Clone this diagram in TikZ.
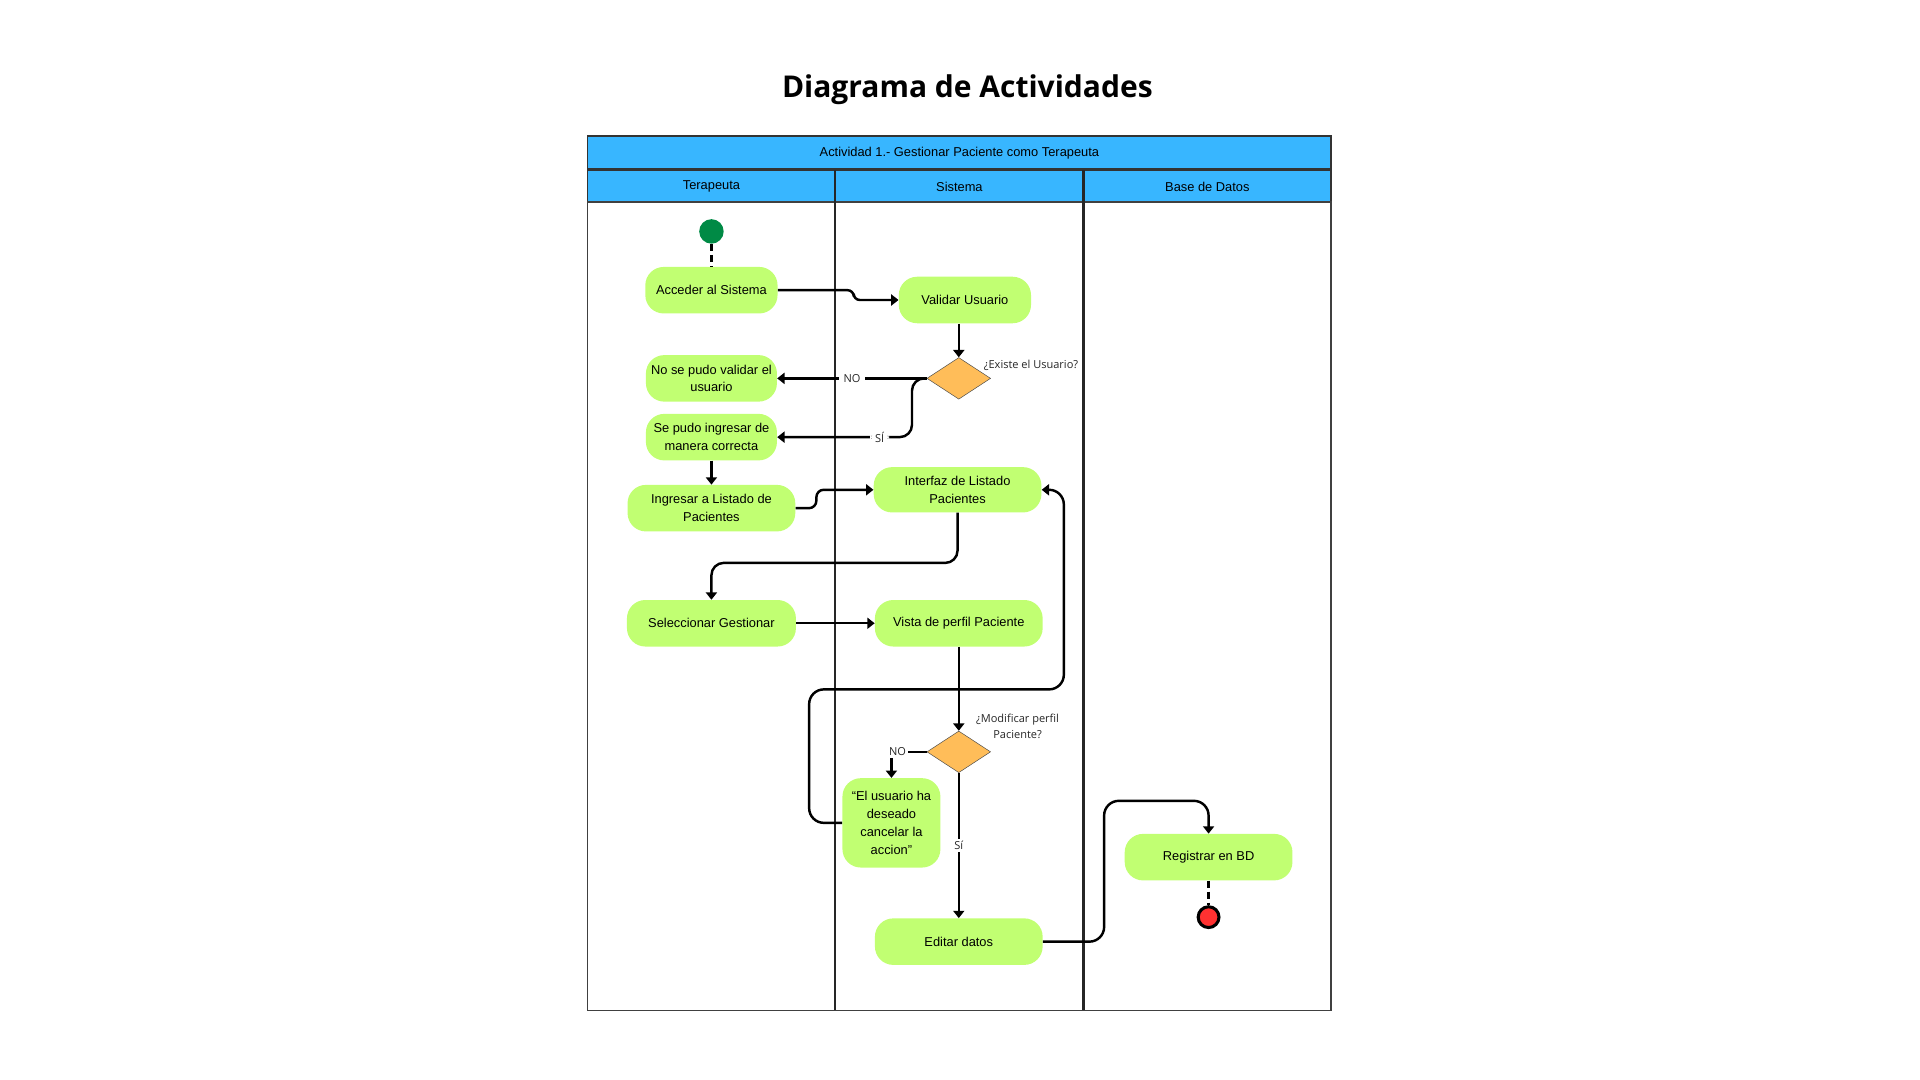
\documentclass[tikz,border=0pt]{standalone}
\usepackage{fontspec}
\setmainfont{Liberation Sans}
\newfontfamily\opensans{Open Sans}
\usetikzlibrary{positioning,shapes.geometric,arrows.meta}
\definecolor{actgreen}{HTML}{C1FF72}
\definecolor{laneblue}{HTML}{38B6FF}
\definecolor{decorange}{HTML}{FFBD59}
\definecolor{startgreen}{HTML}{008A45}
\definecolor{endred}{HTML}{FF3131}
\begin{document}
\begin{tikzpicture}[x=1pt, y=-1pt,
  act/.style = {fill=actgreen, rounded corners=15pt, minimum height=38pt, inner sep=2pt, align=center, font=\fontsize{10.5}{14.5}\selectfont},
  dec/.style = {diamond, draw=black!70, line width=0.4pt, fill=decorange, minimum width=52pt, minimum height=34pt, inner sep=0pt},
  flow/.style = {line width=2pt, -{Triangle[length=6pt,width=9pt]}},
  dash line/.style = {line width=2pt, dash pattern=on 6pt off 3pt},
  lbl/.style = {font=\opensans\fontsize{9}{13}\selectfont, text=black!85, align=center},
  cut/.style = {lbl, fill=white, inner xsep=4pt, inner ysep=2pt},
  head/.style = {fill=laneblue, draw=black!80, line width=1pt}]
\useasboundingbox (0,0) rectangle (1568,882);
\node[font=\opensans\bfseries\fontsize{24.5}{28}\selectfont] (title) at (790,73) {Diagrama de Actividades};
\draw[head] (480,111) rectangle (1087,138);
\node[font=\fontsize{10.5}{12}\selectfont] (actividad) at (783.5,125) {Actividad 1.- Gestionar Paciente como Terapeuta};
\foreach \a/\b/\t in {480/682/Terapeuta, 682/885/Sistema, 885/1087/Base de Datos} {
  \draw[head] (\a,139) rectangle (\b,165);
  \node[font=\fontsize{10.5}{12}\selectfont] (lane\a) at ({(\a+\b)/2},152.5) {\t};
}
\draw[line width=1pt, draw=black!75] (480,165) rectangle (1087,825);
\draw[line width=2pt, draw=black!85] (682,139) -- (682,825);
\draw[line width=2pt, draw=black!85] (885,139) -- (885,825);

\node[circle, fill=startgreen, minimum size=20pt, inner sep=0pt] (1) at (581,189) {};
\node[act, minimum width=108pt, node distance=48pt, below of=1] (2) {Acceder al Sistema};
\node[act, minimum width=107pt, node distance=72pt, below of=2] (3) {No se pudo validar el\\usuario};
\node[act, minimum width=107pt, node distance=48pt, below of=3] (4) {Se pudo ingresar de\\manera correcta};
\node[act, minimum width=137pt, node distance=58pt, below of=4] (5) {Ingresar a Listado de\\Pacientes};
\node[act, minimum width=138pt, node distance=94pt, below of=5] (6) {Seleccionar Gestionar};
\node[act, minimum width=108pt] (7) at (788,245) {Validar Usuario};
\node[dec] (8) at (783,309) {};
\node[lbl] (q1) at (842,298) {¿Existe el Usuario?};
\node[act, minimum width=137pt, minimum height=37pt] (9) at (782,400) {Interfaz de Listado\\Pacientes};
\node[act, minimum width=137pt, node distance=202pt, right of=6] (10) {Vista de perfil Paciente};
\node[dec, node distance=105pt, below of=10] (11) {};
\node[lbl] (q2) at (831,593) {¿Modificar perfil\\Paciente?};
\node[act, minimum width=80pt, minimum height=73pt] (12) at (728,672) {“El usuario ha\\deseado\\cancelar la\\accion”};
\node[act, minimum width=137pt, node distance=155pt, below of=11] (13) {Editar datos};
\node[act, minimum width=137pt] (14) at (987,700) {Registrar en BD};
\node[circle, fill=endred, draw=black, line width=2.5pt, minimum size=17pt, inner sep=0pt, node distance=49pt, below of=14] (15) {};

\draw[dash line] (1) -- (2);
\draw[flow, rounded corners=5pt] (2.east) -- ++(62,0) |- (7.west);
\draw[flow] (8 |- 7.south) -- (8);
\draw[flow] (8.west) -- node[cut] {NO} (3.east);
\draw[flow, rounded corners=10pt] (8.west) -- ++(-12,0) |- node[cut, pos=0.62] {SÍ} (4.east);
\draw[flow] (4) -- (5);
\draw[flow, rounded corners=6pt] (5.east) -- ++(17,0) |- (9.west);
\draw[flow, rounded corners=10pt] (9.south) -- ++(0,41) -| (6.north);
\draw[flow] (6) -- (10);
\draw[flow] (10) -- (11);
\draw[flow] (11.west) -| node[cut, pos=0.5, xshift=5pt, inner xsep=2pt] {NO} (12.north);
\draw[flow] (11) -- node[cut] {Sí} (13);
\draw[flow, rounded corners=12pt] (12.west) -- ++(-27,0) -- ++(0,-109) -- ++(208,0) |- (9.east);
\draw[flow, rounded corners=12pt] (13.east) -- ++(50,0) -- ++(0,-115) -| (14.north);
\draw[dash line] (14) -- (15);
\end{tikzpicture}
\end{document}
